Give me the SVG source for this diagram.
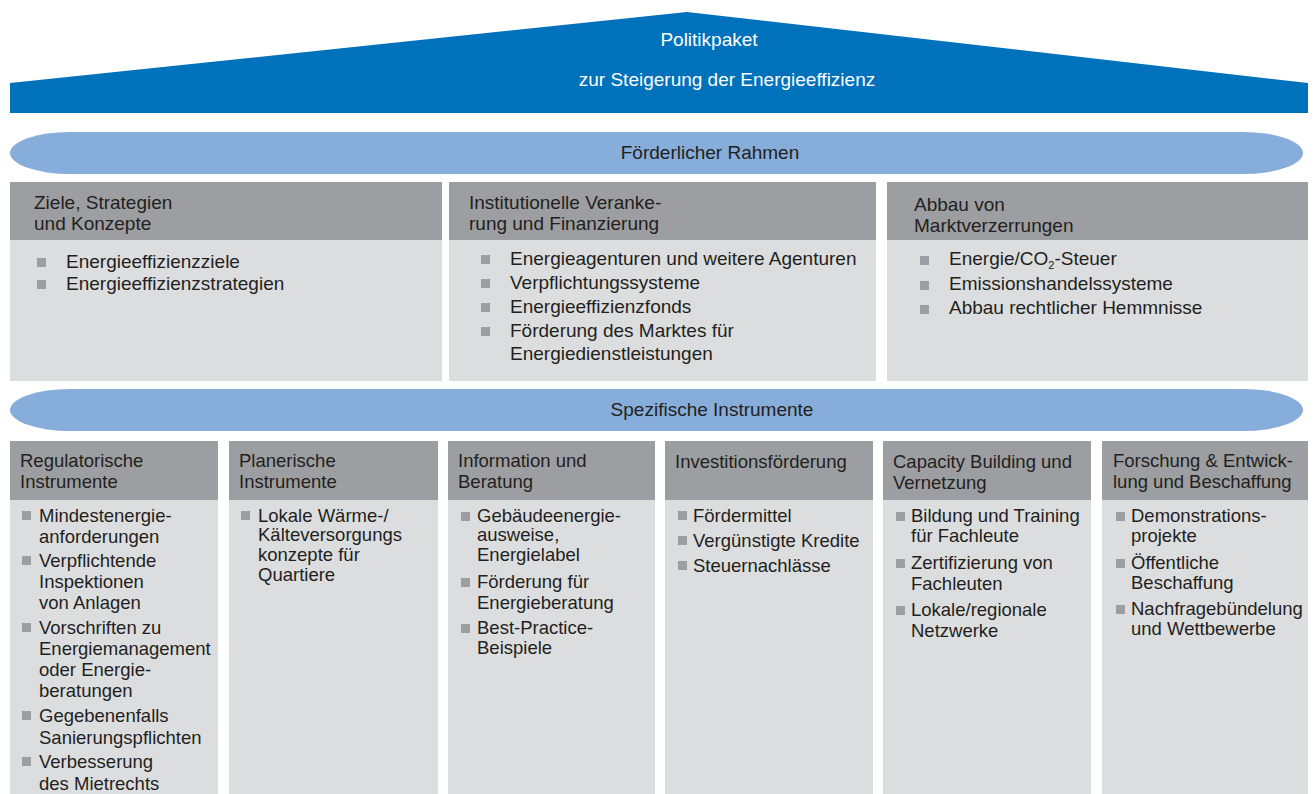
<svg xmlns="http://www.w3.org/2000/svg" width="1314" height="794" viewBox="0 0 1314 794">
<style>
text{font-family:"Liberation Sans",Arial,sans-serif;font-size:18.5px;fill:#231f20}
.t{font-size:19px}
.w{fill:#ffffff;text-anchor:middle;font-size:19px}
.c{text-anchor:middle;font-size:19px}
.hd{fill:#9d9ea1}
.bd{fill:#dcdddf}
.bar{fill:#87addb}
.sq{fill:#9d9ea1}
</style>
<rect width="1314" height="794" fill="#ffffff"/>
<g id="roof">
<polygon points="10,113 10,83 687,12 1308,83 1308,113" fill="#0071bb"/>
<text class="w" x="709" y="46">Politikpaket</text>
<text class="w" x="727" y="86">zur Steigerung der Energieeffizienz</text>
</g>
<g id="rahmen">
<rect class="bar" x="10" y="132" width="1293" height="42" rx="60" ry="21"/>
<text class="c" x="710" y="159">Förderlicher Rahmen</text>
</g>
<g id="ziele" class="t">
<rect class="hd" x="10" y="182" width="432" height="58"/>
<rect class="bd" x="10" y="240" width="432" height="141"/>
<text class="t" x="34" y="209">Ziele, Strategien</text>
<text class="t" x="34" y="230">und Konzepte</text>
<rect class="sq" x="37" y="258" width="9" height="9"/>
<text class="t" x="66" y="268">Energieeffizienzziele</text>
<rect class="sq" x="37" y="280" width="9" height="9"/>
<text class="t" x="66" y="290">Energieeffizienzstrategien</text>
</g>
<g id="institutionell">
<rect class="hd" x="449" y="182" width="427" height="58"/>
<rect class="bd" x="449" y="240" width="427" height="141"/>
<text class="t" x="469" y="209">Institutionelle Veranke-</text>
<text class="t" x="469" y="230">rung und Finanzierung</text>
<rect class="sq" x="481" y="255" width="9" height="9"/>
<text class="t" x="510" y="265">Energieagenturen und weitere Agenturen</text>
<rect class="sq" x="481" y="279" width="9" height="9"/>
<text class="t" x="510" y="289">Verpflichtungssysteme</text>
<rect class="sq" x="481" y="303" width="9" height="9"/>
<text class="t" x="510" y="313">Energieeffizienzfonds</text>
<rect class="sq" x="481" y="327" width="9" height="9"/>
<text class="t" x="510" y="337">Förderung des Marktes für</text>
<text class="t" x="510" y="360">Energiedienstleistungen</text>
</g>
<g id="abbau">
<rect class="hd" x="887" y="182" width="421" height="58"/>
<rect class="bd" x="887" y="240" width="421" height="141"/>
<text class="t" x="914" y="211">Abbau von</text>
<text class="t" x="914" y="232">Marktverzerrungen</text>
<rect class="sq" x="920" y="256" width="9" height="9"/>
<text class="t" x="949" y="265">Energie/CO<tspan font-size="11" dy="4">2</tspan><tspan dy="-4">-Steuer</tspan></text>
<rect class="sq" x="920" y="281" width="9" height="9"/>
<text class="t" x="949" y="290">Emissionshandelssysteme</text>
<rect class="sq" x="920" y="305" width="9" height="9"/>
<text class="t" x="949" y="314">Abbau rechtlicher Hemmnisse</text>
</g>
<g id="spezifisch">
<rect class="bar" x="10" y="389" width="1293" height="42" rx="60" ry="21"/>
<text class="c" x="712" y="416">Spezifische Instrumente</text>
</g>
<g id="regulatorisch">
<rect class="hd" x="10" y="441" width="208" height="59"/>
<rect class="bd" x="10" y="500" width="208" height="294"/>
<text x="20" y="467">Regulatorische</text>
<text x="20" y="488">Instrumente</text>
<rect class="sq" x="22" y="511" width="9" height="9"/>
<text x="39" y="522">Mindestenergie-</text>
<text x="39" y="543">anforderungen</text>
<rect class="sq" x="22" y="556" width="9" height="9"/>
<text x="39" y="567">Verpflichtende</text>
<text x="39" y="588">Inspektionen</text>
<text x="39" y="609">von Anlagen</text>
<rect class="sq" x="22" y="623" width="9" height="9"/>
<text x="39" y="634">Vorschriften zu</text>
<text x="39" y="655">Energiemanagement</text>
<text x="39" y="676">oder Energie-</text>
<text x="39" y="697">beratungen</text>
<rect class="sq" x="22" y="711" width="9" height="9"/>
<text x="39" y="722">Gegebenenfalls</text>
<text x="39" y="744">Sanierungspflichten</text>
<rect class="sq" x="22" y="757" width="9" height="9"/>
<text x="39" y="768">Verbesserung</text>
<text x="39" y="790">des Mietrechts</text>
</g>
<g id="planerisch">
<rect class="hd" x="229" y="441" width="209" height="59"/>
<rect class="bd" x="229" y="500" width="209" height="294"/>
<text x="239" y="467">Planerische</text>
<text x="239" y="488">Instrumente</text>
<rect class="sq" x="241" y="511" width="9" height="9"/>
<text x="258" y="522">Lokale Wärme-/</text>
<text x="258" y="541">Kälteversorgungs</text>
<text x="258" y="561">konzepte für</text>
<text x="258" y="581">Quartiere</text>
</g>
<g id="information">
<rect class="hd" x="448" y="441" width="207" height="59"/>
<rect class="bd" x="448" y="500" width="207" height="294"/>
<text x="458" y="467">Information und</text>
<text x="458" y="488">Beratung</text>
<rect class="sq" x="461" y="512" width="9" height="9"/>
<text x="477" y="522">Gebäudeenergie-</text>
<text x="477" y="541">ausweise,</text>
<text x="477" y="561">Energielabel</text>
<rect class="sq" x="461" y="578" width="9" height="9"/>
<text x="477" y="588">Förderung für</text>
<text x="477" y="609">Energieberatung</text>
<rect class="sq" x="461" y="624" width="9" height="9"/>
<text x="477" y="634">Best-Practice-</text>
<text x="477" y="654">Beispiele</text>
</g>
<g id="investition">
<rect class="hd" x="665" y="441" width="208" height="59"/>
<rect class="bd" x="665" y="500" width="208" height="294"/>
<text x="675" y="468">Investitionsförderung</text>
<rect class="sq" x="678" y="511" width="9" height="9"/>
<text x="693" y="522">Fördermittel</text>
<rect class="sq" x="678" y="536" width="9" height="9"/>
<text x="693" y="547">Vergünstigte Kredite</text>
<rect class="sq" x="678" y="561" width="9" height="9"/>
<text x="693" y="572">Steuernachlässe</text>
</g>
<g id="capacity">
<rect class="hd" x="883" y="441" width="208" height="59"/>
<rect class="bd" x="883" y="500" width="208" height="294"/>
<text x="893" y="468">Capacity Building und</text>
<text x="893" y="489">Vernetzung</text>
<rect class="sq" x="896" y="512" width="9" height="9"/>
<text x="911" y="522">Bildung und Training</text>
<text x="911" y="542">für Fachleute</text>
<rect class="sq" x="896" y="559" width="9" height="9"/>
<text x="911" y="569">Zertifizierung von</text>
<text x="911" y="590">Fachleuten</text>
<rect class="sq" x="896" y="606" width="9" height="9"/>
<text x="911" y="616">Lokale/regionale</text>
<text x="911" y="637">Netzwerke</text>
</g>
<g id="forschung">
<rect class="hd" x="1102" y="441" width="206" height="59"/>
<rect class="bd" x="1102" y="500" width="206" height="294"/>
<text x="1113" y="467">Forschung &amp; Entwick-</text>
<text x="1113" y="488">lung und Beschaffung</text>
<rect class="sq" x="1116" y="512" width="9" height="9"/>
<text x="1131" y="522">Demonstrations-</text>
<text x="1131" y="542">projekte</text>
<rect class="sq" x="1116" y="559" width="9" height="9"/>
<text x="1131" y="569">Öffentliche</text>
<text x="1131" y="589">Beschaffung</text>
<rect class="sq" x="1116" y="605" width="9" height="9"/>
<text x="1131" y="615">Nachfragebündelung</text>
<text x="1131" y="635">und Wettbewerbe</text>
</g>
<g id="connectors"></g>
</svg>
